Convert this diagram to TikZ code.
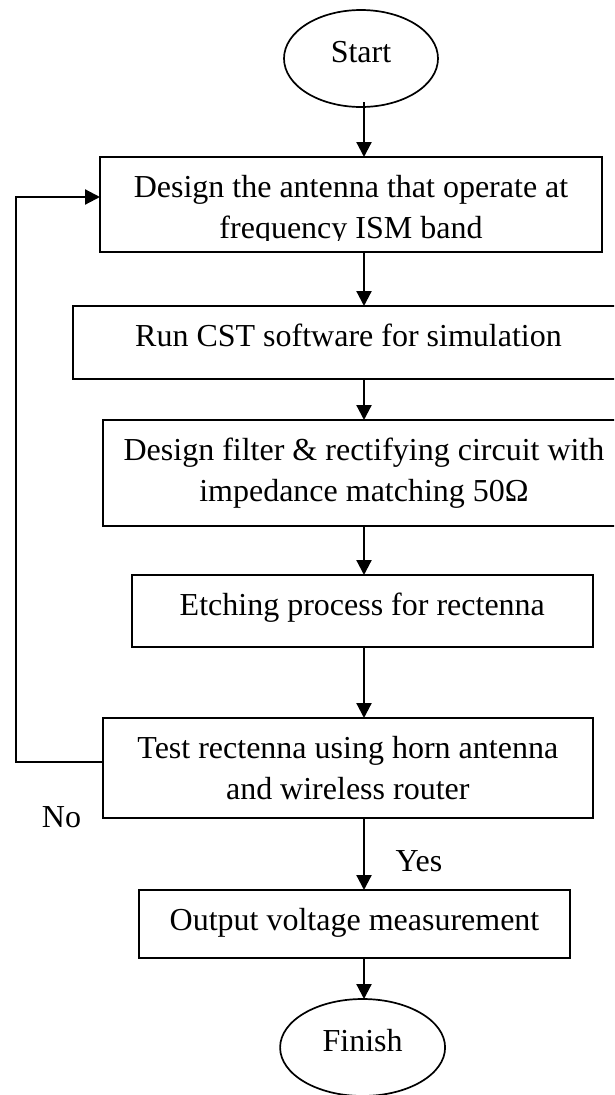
\documentclass[tikz,border=0pt]{standalone}
\usepackage{fontspec}
\setmainfont{Liberation Serif}
\usetikzlibrary{arrows.meta,shapes.geometric}
\newcommand\twoline[2]{\begin{tabular}[t]{@{}c@{}}#1\\#2\end{tabular}}
\begin{document}
\begin{tikzpicture}[x=1pt,y=1pt,
  every node/.style={inner sep=0pt, outer sep=0pt},
  stepbox/.style={draw, rectangle, line width=2pt},
  term/.style={draw, ellipse, line width=1.7pt},
  lbl/.style={font=\fontsize{32pt}{41.5pt}\selectfont, anchor=base},
  arr/.style={line width=2.2pt, -{Triangle[width=15pt,length=15pt]}}]
\useasboundingbox (0,0) rectangle (614,-1095);
\clip (0,0) rectangle (614,-1095);

% terminals and process boxes
\node[term, minimum width=154pt, minimum height=97pt] (s) at (361,-58.5) {};
\node[stepbox, minimum width=502pt, minimum height=95pt] (b1) at (351,-204.5) {};
\node[stepbox, minimum width=552pt, minimum height=73pt] (b2) at (348.5,-342.5) {};
\node[stepbox, minimum width=523pt, minimum height=106pt] (b3) at (364,-473) {};
\node[stepbox, minimum width=461pt, minimum height=72pt] (b4) at (362.3,-611) {};
\node[stepbox, minimum width=490pt, minimum height=100pt] (b5) at (347.8,-768) {};
\node[stepbox, minimum width=431pt, minimum height=68pt] (b6) at (354.5,-924) {};
\node[term, minimum width=165pt, minimum height=97pt] (f) at (362.6,-1047.5) {};

% labels
\node[lbl] (ts) at ([yshift=-52pt]s.north) {Start};
\begin{scope}
  \clip (0,-150) rectangle (614,-240);
  \node[lbl] (t1) at ([yshift=-40pt]b1.north) {\twoline{Design the antenna that operate at}{frequency ISM band}};
\end{scope}
\node[lbl] (t2) at ([yshift=-40pt]b2.north) {Run CST software for simulation};
\node[lbl] (t3) at ([yshift=-40pt]b3.north) {\twoline{Design filter \& rectifying circuit with}{impedance matching 50Ω}};
\node[lbl] (t4) at ([yshift=-40pt]b4.north) {Etching process for rectenna};
\node[lbl] (t5) at ([yshift=-40pt]b5.north) {\twoline{Test rectenna using horn antenna}{and wireless router}};
\node[lbl] (t6) at ([yshift=-40pt]b6.north) {Output voltage measurement};
\node[lbl] (tf) at ([yshift=-52pt]f.north) {Finish};
\node[lbl] (no) at (61.5,-827) {No};
\node[lbl] (yes) at (419,-871) {Yes};

% main flow
\coordinate (ax) at (364,0);
\draw[arr] ([yshift=5pt]ax |- s.south) -- (ax |- b1.north);
\draw[arr] (ax |- b1.south) -- (ax |- b2.north);
\draw[arr] (ax |- b2.south) -- (ax |- b3.north);
\draw[arr] (ax |- b3.south) -- (ax |- b4.north);
\draw[arr] (ax |- b4.south) -- (ax |- b5.north);
\draw[arr] (ax |- b5.south) -- (ax |- b6.north);
\draw[arr] (ax |- b6.south) -- (ax |- f.north);

% feedback loop on failure
\coordinate (lp) at (15.7,0);
\coordinate (noOut) at ([yshift=6pt]b5.west);
\coordinate (retIn) at ([yshift=7.5pt]b1.west);
\draw[arr] (noOut) -- (noOut -| lp) |- (retIn);
\end{tikzpicture}
\end{document}
